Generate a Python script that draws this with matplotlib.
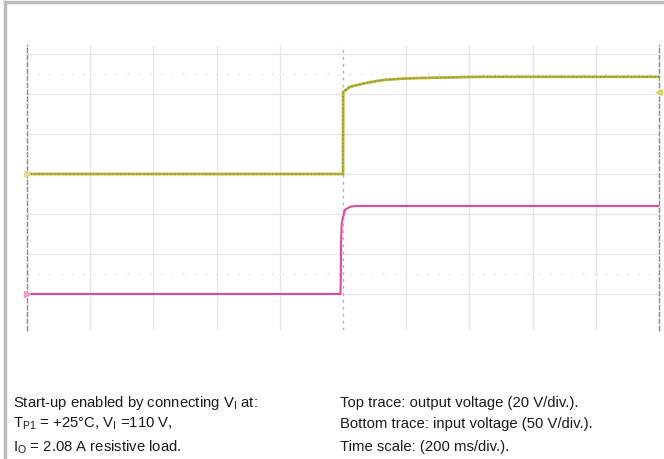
import numpy as np
import matplotlib.pyplot as plt

plt.rcParams['font.family'] = ['Liberation Sans', 'DejaVu Sans']
plt.rcParams['mathtext.fontset'] = 'custom'
plt.rcParams['mathtext.rm'] = 'Liberation Sans'

# Scope settings
t_div = 200          # ms/div
v_out_div = 20       # V/div, top trace
v_in_div = 50        # V/div, bottom trace
in_offset = -3       # div, ground of bottom trace

# Top trace: output voltage (time in ms, relative to trigger)
t_out = [-1000, -2, 0, 0.5, 22, 75, 127, 180, 244, 434, 1000]
v_out = [0, 0, 0, 41, 43.6, 45.6, 47, 47.6, 48, 48.6, 48.6]

# Bottom trace: input voltage
t_in = [-1000, -8, -7, -6, -4, 6, 22, 40, 1000]
v_in = [0, 0, 20, 67, 89, 105, 109, 110, 110]

fig = plt.figure(figsize=(6.64, 4.59), dpi=100)
ax = fig.add_axes([27 / 664, 1 - 330 / 459, 632 / 664, 285 / 459])

# grid
for k in range(-4, 5):
    if k != 0:
        ax.axvline(k * t_div, color='#e6e6e6', lw=1, zorder=0)
for k in range(-3, 4):
    ax.axhline(k, color='#e6e6e6', lw=1, zorder=0)
for k in (-2.5, 2.5):
    ax.axhline(k, color='#dcdcdc', lw=1, ls=(0, (1, 7)), zorder=0)
ax.axvline(0, color='#b0b0b0', lw=1, ls=(0, (2, 3)), zorder=0)

# traces
ax.plot(t_out, np.array(v_out) / v_out_div, color='#b4b43a', lw=2.0, zorder=3)
ax.plot(t_out, np.array(v_out) / v_out_div, color='#85851e', lw=0.8,
        ls=(0, (1, 2.5)), zorder=4)
ax.plot(t_in, np.array(v_in) / v_in_div + in_offset, color='#e0489a', lw=1.5, zorder=3)

ax.set_xlim(-5 * t_div, 5 * t_div)
ax.set_ylim(-3.9, 3.225)
ax.set_xticks([])
ax.set_yticks([])
for s in ('top', 'bottom'):
    ax.spines[s].set_visible(False)
for s in ('left', 'right'):
    ax.spines[s].set_color('#8a8a8a')
    ax.spines[s].set_linestyle((0, (3, 2)))
    ax.spines[s].set_linewidth(1)

# channel / trigger markers
ax.plot([-5 * t_div], [0], marker='>', ms=5, color='#dede90', clip_on=False, zorder=5)
ax.plot([-5 * t_div], [in_offset], marker='>', ms=5, color='#e8a0c8', clip_on=False, zorder=5)
ax.plot([5 * t_div], [41 / v_out_div], marker='<', ms=4, color='#d6d66a', clip_on=False, zorder=5)

# outer frame (top and left)
fig.add_artist(plt.Line2D([4.5 / 664, 4.5 / 664], [0, 1 - 1.5 / 459], color='#bdbdbd', lw=2.5))
fig.add_artist(plt.Line2D([4.5 / 664, 1], [1 - 1.5 / 459, 1 - 1.5 / 459], color='#bdbdbd', lw=2.5))

# caption
fs = 10.7
left_lines = [r'Start-up enabled by connecting V$_\mathrm{I}$ at:',
              r'T$_\mathrm{P1}$ = +25°C, V$_\mathrm{I}$ =110 V,',
              r'I$_\mathrm{O}$ = 2.08 A resistive load.']
right_lines = ['Top trace: output voltage (20 V/div.).',
               'Bottom trace: input voltage (50 V/div.).',
               'Time scale: (200 ms/div.).']
ys = [403, 424, 447]
for y, l, r in zip(ys, left_lines, right_lines):
    fig.text(13 / 664, 1 - y / 459, l, fontsize=fs, va='center', color='#1a1a1a')
    fig.text(340 / 664, 1 - y / 459, r, fontsize=fs, va='center', color='#1a1a1a')

fig.savefig('out.png', dpi=100)
